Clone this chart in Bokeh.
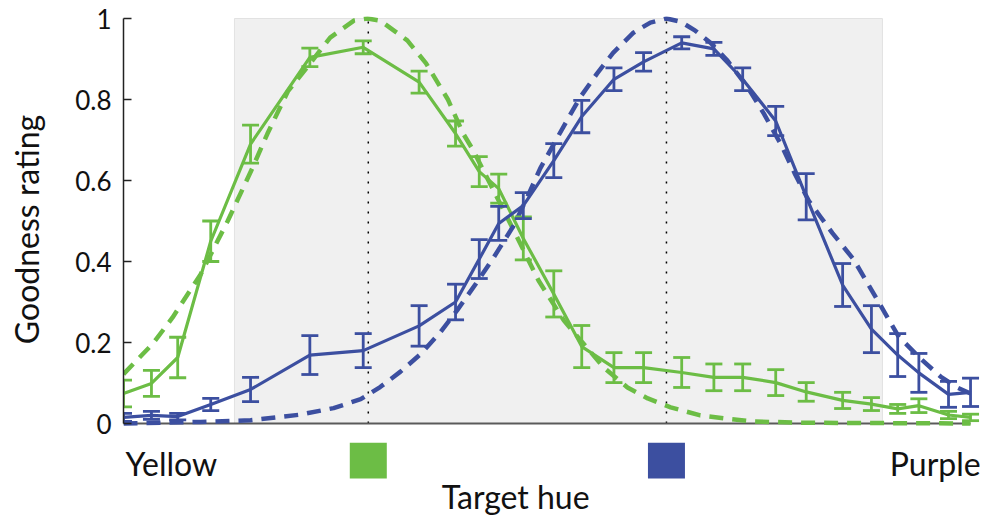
from bokeh.plotting import figure
from bokeh.layouts import column
from bokeh.models import Range1d, FixedTicker, Whisker, TeeHead, ColumnDataSource
from bokeh.core.properties import value
from bokeh.embed import file_html
from bokeh.resources import INLINE

# ---------------- data ----------------
# hue position of each probe (arbitrary hue units, 0 = yellow end, 100 = purple end)
hue = [0, 3.3, 6.4, 10.3, 15.0, 22.0, 28.3, 34.9, 39.2, 42.0, 44.3, 47.2, 50.8, 54.1,
       57.9, 61.4, 65.9, 69.7, 73.1, 77.0, 80.6, 84.9, 88.3, 91.4, 93.9, 97.4, 100]

green_mean = [0.074, 0.099, 0.163, 0.45, 0.69, 0.904, 0.929, 0.843, 0.716, 0.622, 0.58,
              0.457, 0.32, 0.19, 0.138, 0.138, 0.126, 0.114, 0.114, 0.101, 0.078, 0.057,
              0.048, 0.036, 0.044, 0.021, 0.015]
green_err = [0.033, 0.032, 0.05, 0.05, 0.047, 0.023, 0.016, 0.027, 0.031, 0.037, 0.036,
             0.053, 0.057, 0.052, 0.037, 0.037, 0.037, 0.033, 0.033, 0.032, 0.023, 0.02,
             0.016, 0.011, 0.017, 0.009, 0.008]

blue_mean = [0.015, 0.02, 0.017, 0.047, 0.084, 0.169, 0.18, 0.241, 0.30, 0.406, 0.494,
             0.538, 0.649, 0.758, 0.85, 0.893, 0.94, 0.925, 0.85, 0.747, 0.56, 0.342,
             0.233, 0.169, 0.125, 0.072, 0.077]
blue_err = [0.01, 0.01, 0.008, 0.015, 0.03, 0.048, 0.042, 0.05, 0.044, 0.048, 0.042,
            0.032, 0.042, 0.04, 0.028, 0.023, 0.015, 0.016, 0.028, 0.036, 0.057, 0.053,
            0.058, 0.053, 0.048, 0.032, 0.035]

# fitted curves (dashed)
green_fit_hue = [0, 3.5, 5.8, 9.1, 12.3, 15.2, 17.0, 19.4, 21.7, 24.4, 27.2, 28.8, 30.3,
                 33.5, 35.7, 38.3, 40.1, 41.3, 43.7, 45.9, 49.0, 52.0, 56.7, 59.5, 61.9,
                 64.6, 68.1, 71.3, 74.4, 79.9, 100]
green_fit = [0.122, 0.198, 0.262, 0.368, 0.50, 0.63, 0.716, 0.82, 0.88, 0.953, 0.995,
             1.0, 0.995, 0.946, 0.89, 0.80, 0.716, 0.674, 0.575, 0.484, 0.353, 0.254,
             0.138, 0.089, 0.062, 0.04, 0.02, 0.012, 0.005, 0.002, 0.0]

blue_fit_hue = [0, 9.1, 15.0, 20.9, 24.8, 28.0, 30.3, 32.7, 35.1, 37.4, 39.4, 41.6, 43.7,
                46.1, 47.7, 49.2, 50.8, 52.4, 53.9, 55.9, 57.8, 60.2, 62.2, 64.1, 65.8,
                67.5, 69.3, 71.3, 73.7, 75.6, 77.6, 79.3, 80.9, 82.3, 83.7, 86.2, 89.0,
                91.5, 94.1, 96.5, 98.5, 100]
blue_fit = [0.0, 0.004, 0.008, 0.022, 0.038, 0.06, 0.09, 0.128, 0.172, 0.225, 0.28, 0.345,
            0.41, 0.49, 0.56, 0.63, 0.69, 0.75, 0.805, 0.864, 0.915, 0.965, 0.99, 1.0,
            0.992, 0.97, 0.94, 0.896, 0.83, 0.765, 0.69, 0.615, 0.55, 0.51, 0.47, 0.405,
            0.305, 0.215, 0.16, 0.115, 0.088, 0.074]

# target hues (dotted lines / colour swatches) and shaded hue range
target_hue = [28.9, 64.1]
target_color = ["#6cbd45", "#3c4fa0"]
shade_range = (13.1, 89.6)

end_labels = ["Yellow", "Purple"]
y_ticks = [0, 0.2, 0.4, 0.6, 0.8, 1]
y_tick_labels = ["0", "0.2", "0.4", "0.6", "0.8", "1"]

GREEN = "#6cbd45"
BLUE = "#3c4fa0"
FONT = "Lato"

x_range = Range1d(0, 101.53)
SPLIT = -0.0469   # value where the main plot hands over to the strip below

# ---------------- main plot ----------------
p = figure(width=983, height=442, output_backend="svg", toolbar_location=None,
           x_range=x_range, y_range=Range1d(SPLIT, 1.005),
           x_axis_location=None,
           min_border_left=123, min_border_right=0, min_border_top=16, min_border_bottom=0)
p.outline_line_color = None
p.grid.visible = False

# shaded region
p.quad(left=[shade_range[0]], right=[shade_range[1]], bottom=[0], top=[1],
       fill_color="#f0f0f0", line_color="#e2e2e2", line_width=1)

# dotted target lines
p.segment(x0=target_hue, x1=target_hue, y0=[0] * 2, y1=[1] * 2,
          line_color="black", line_width=1.5, line_dash="2 8")

# x-axis baseline
p.line(x=[hue[0], hue[-1]], y=[0, 0], line_color="#5a5a5a", line_width=2)

# fitted dashed curves
p.line(green_fit_hue, green_fit, line_color=GREEN, line_width=4.5, line_dash="14 9")
p.line(blue_fit_hue, blue_fit, line_color=BLUE, line_width=4.5, line_dash="14 9")

# data lines + error bars
for mean, err, col in [(green_mean, green_err, GREEN), (blue_mean, blue_err, BLUE)]:
    src = ColumnDataSource(dict(x=hue, y=mean,
                                lo=[m - e for m, e in zip(mean, err)],
                                hi=[m + e for m, e in zip(mean, err)]))
    p.line("x", "y", source=src, line_color=col, line_width=3.2)
    w = Whisker(source=src, base="x", lower="lo", upper="hi", dimension="height",
                line_color=col, line_width=2.8, level="glyph",
                upper_head=TeeHead(size=17, line_color=col, line_width=2.8),
                lower_head=TeeHead(size=17, line_color=col, line_width=2.8))
    p.add_layout(w)

# y axis
ya = p.yaxis[0]
ya.bounds = (0, 1)
ya.ticker = FixedTicker(ticks=y_ticks)
ya.major_label_overrides = {t: s for t, s in zip(y_ticks, y_tick_labels)}
ya.minor_tick_line_color = None
ya.major_tick_in = 8
ya.major_tick_out = 0
ya.major_tick_line_color = "#222222"
ya.major_tick_line_width = 1.5
ya.axis_line_color = "#222222"
ya.axis_line_width = 1.5
ya.major_label_standoff = 12
ya.major_label_text_font = FONT
ya.major_label_text_font_size = "26px"
ya.major_label_text_color = "#111111"
ya.axis_label = "Goodness rating"
ya.axis_label_text_font = FONT
ya.axis_label_text_font_size = "32px"
ya.axis_label_text_font_style = "normal"
ya.axis_label_text_color = "#111111"
ya.axis_label_standoff = 26

# ---------------- strip under the axis: swatches and labels ----------------
q = figure(width=983, height=74, output_backend="svg", toolbar_location=None,
           x_range=x_range, y_range=Range1d(-0.2296, SPLIT),
           x_axis_location=None, y_axis_location=None,
           min_border_left=123, min_border_right=0, min_border_top=0, min_border_bottom=0)
q.outline_line_color = None
q.grid.visible = False

q.rect(x=target_hue, y=[-0.0913] * 2, width=37, height=36,
       width_units="screen", height_units="screen",
       fill_color=target_color, line_color=None)

q.text(x=[0.25], y=[-0.098], text=[end_labels[0]], text_font=value(FONT),
       text_font_size="32px", text_align="left", text_baseline="alphabetic",
       text_color="#111111")
q.text(x=[101.2], y=[-0.098], text=[end_labels[1]], text_font=value(FONT),
       text_font_size="32px", text_align="right", text_baseline="alphabetic",
       text_color="#111111")
q.text(x=[46.3], y=[-0.181], text=["Target hue"], text_font=value(FONT),
       text_font_size="32px", text_align="center", text_baseline="alphabetic",
       text_color="#111111")

layout = column(p, q, spacing=0)
open("out.html", "w").write(file_html(layout, INLINE))
